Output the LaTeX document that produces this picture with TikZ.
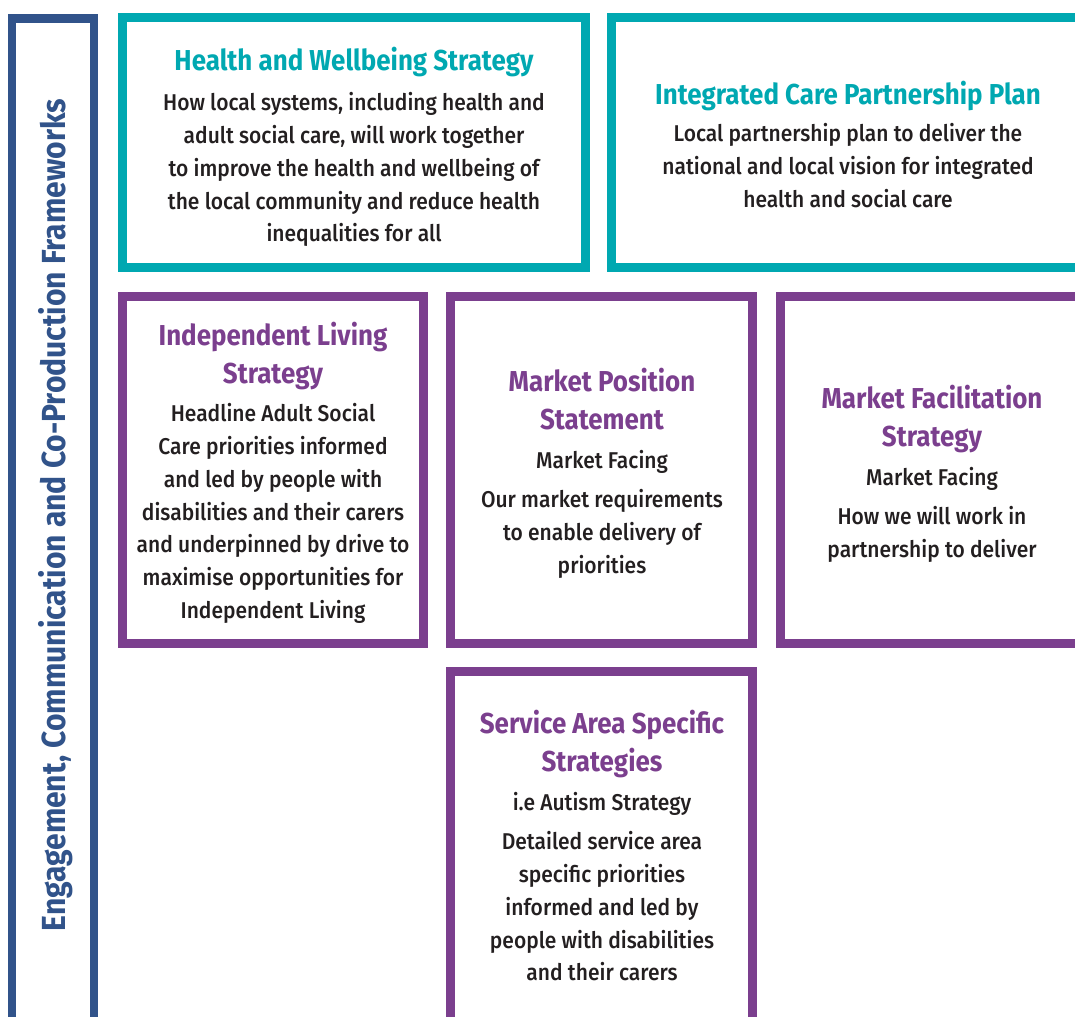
\documentclass[tikz,border=0pt]{standalone}
\usepackage{fontspec}
\setmainfont{Fira Sans}[FakeStretch=0.9]
\newfontfamily\bodyfont{Fira Sans Medium}[FakeStretch=0.92]
\definecolor{hwteal}{HTML}{00A8B1}
\definecolor{ilpurple}{HTML}{7B3F8E}
\definecolor{ecblue}{HTML}{31538A}
\definecolor{bodyink}{HTML}{231F20}
\tikzset{
  framebox/.style={draw, line width=5.1pt, inner sep=0pt, minimum width=#1},
  headtext/.style={anchor=north, inner sep=0pt, align=center, font=\fontsize{16.4}{21.5}\selectfont\bfseries},
  bodytext/.style={anchor=north, inner sep=0pt, align=center, text=bodyink, font=\bodyfont\fontsize{13}{18.7}\selectfont}
}

\begin{document}
\begin{tikzpicture}[x=0.02cm, y=-0.02cm]
\useasboundingbox (0,0) rectangle (1075,1017);
\clip (0,0) rectangle (1075,1017);

% left frame
\node[framebox=1.64cm, draw=ecblue, minimum height=20.24cm] (frame) at (53,524) {};
\node[rotate=90, text=ecblue, inner sep=0pt, font=\fontsize{19}{22}\selectfont\bfseries] (frameT) at (56,515)
  {Engagement, Communication and Co-Production Frameworks};

% top row
\node[framebox=9.26cm, draw=hwteal, minimum height=5cm] (hws) at (354,142.5) {};
\node[headtext, text=hwteal] (hwsT) at (354,47) {Health and Wellbeing Strategy};
\node[bodytext] (hwsB) at (354,92) {How local systems, including health and\\
  adult social care,  will work together\\
  to improve the health and wellbeing of\\
  the local community  and reduce health\\
  inequalities for all};

\node[framebox=9.57cm, draw=hwteal, minimum height=5cm] (icp) at (850.75,142.5) {};
\node[headtext, text=hwteal] (icpT) at (848,81) {Integrated Care Partnership Plan};
\node[bodytext] (icpB) at (848,123) {Local partnership plan to deliver the\\
  national and local vision for integrated\\
  health and social care};

% middle row
\node[framebox=6.02cm, draw=ilpurple, minimum height=6.94cm] (ils) at (273,470) {};
\node[headtext, text=ilpurple] (ilsT) at (273,322) {Independent Living\\Strategy};
\node[bodytext] (ilsB) at (273,403) {Headline Adult Social\\
  Care priorities informed\\
  and led by people with\\
  disabilities and their carers\\
  and underpinned by drive to\\
  maximise opportunities for\\
  Independent Living};

\node[framebox=6.04cm, draw=ilpurple, minimum height=6.94cm] (mps) at (601.5,470) {};
\node[headtext, text=ilpurple] (mpsT) at (602,368) {Market Position\\Statement};
\node[bodytext] (mpsS) at (602,450) {Market Facing};
\node[bodytext] (mpsB) at (602,489) {Our market requirements\\
  to enable delivery of\\
  priorities};

\node[framebox=6.2cm, draw=ilpurple, minimum height=6.94cm] (mfs) at (935,470) {};
\node[headtext, text=ilpurple] (mfsT) at (932,385) {Market Facilitation\\Strategy};
\node[bodytext] (mfsS) at (932,467) {Market Facing};
\node[bodytext] (mfsB) at (932,506) {How we will work in\\
  partnership to deliver};

% bottom row
\node[framebox=6.04cm, draw=ilpurple, minimum height=7.17cm] (sas) at (601.5,850.75) {};
\node[headtext, text=ilpurple] (sasT) at (602,710) {Service Area Specific\\Strategies};
\node[bodytext] (sasS) at (602,792) {i.e Autism Strategy};
\node[bodytext] (sasB) at (602,831) {Detailed service area\\
  specific priorities\\
  informed and led by\\
  people with disabilities\\
  and their carers};
\end{tikzpicture}
\end{document}
